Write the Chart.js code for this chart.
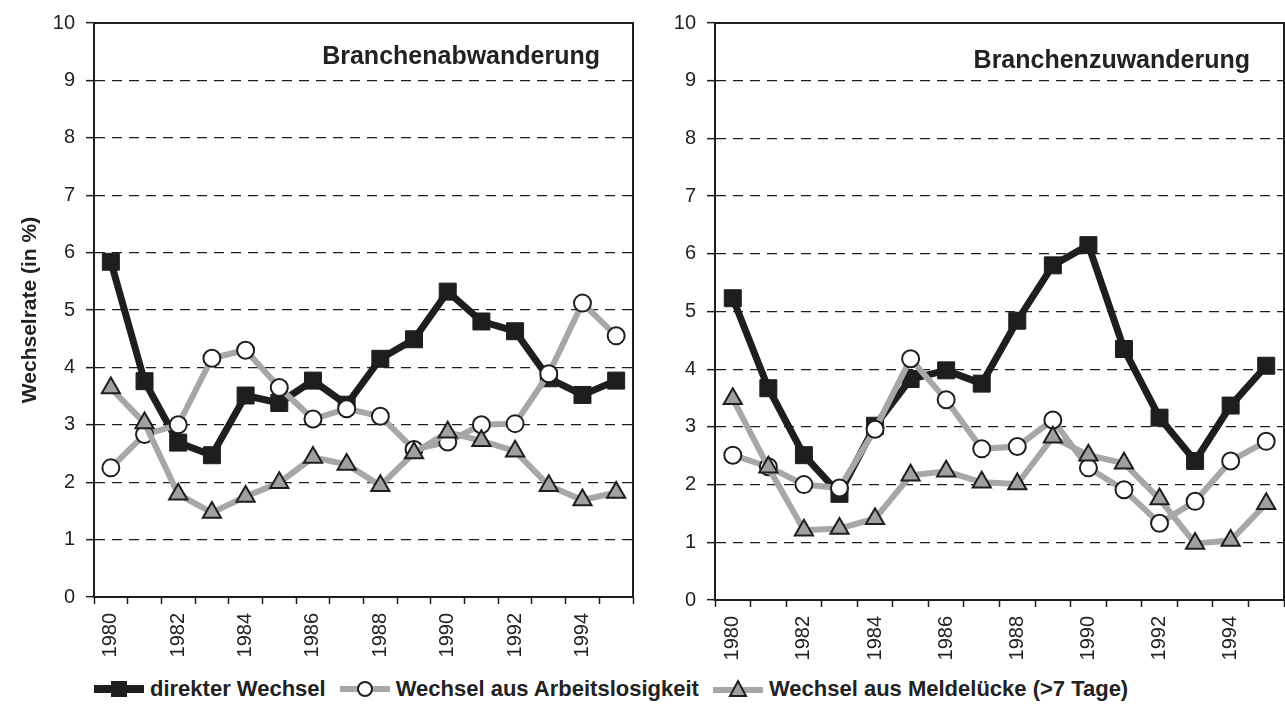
<!DOCTYPE html>
<html><head><meta charset="utf-8">
<script src="https://cdn.jsdelivr.net/npm/chart.js@4.4.1/dist/chart.umd.min.js"></script>
<style>
html,body{margin:0;padding:0;background:#fff;width:1285px;height:706px;overflow:hidden;font-family:"Liberation Sans",Arial,sans-serif;color:#222;}
#c1{position:absolute;left:0;top:0;}
#c2{position:absolute;left:650px;top:0;}
.ptitle{position:absolute;font-weight:bold;font-size:25px;line-height:27px;color:#222;white-space:nowrap;}
#legend{position:absolute;top:676px;left:94px;display:flex;align-items:center;font-weight:bold;font-size:22px;line-height:26px;color:#222;white-space:nowrap;}
#legend .it{display:flex;align-items:center;margin-right:14px;}
#legend svg{margin-right:6px;}
</style>
</head><body>
<canvas id="c1" width="650" height="665"></canvas>
<canvas id="c2" width="660" height="665"></canvas>
<div class="ptitle" id="t1" style="right:685px;top:42px;">Branchenabwanderung</div>
<div class="ptitle" id="t2" style="right:35px;top:46px;">Branchenzuwanderung</div>
<div id="legend">
  <div class="it"><svg width="50" height="22"><line x1="0" y1="11" x2="50" y2="11" stroke="#1e1e1e" stroke-width="8"/><rect x="17" y="3" width="16" height="16" fill="#1e1e1e"/></svg>direkter Wechsel</div>
  <div class="it"><svg width="50" height="22"><line x1="0" y1="11" x2="50" y2="11" stroke="#a7a7a7" stroke-width="6"/><circle cx="25" cy="11" r="7" fill="#fff" stroke="#1e1e1e" stroke-width="2"/></svg>Wechsel aus Arbeitslosigkeit</div>
  <div class="it"><svg width="50" height="22"><line x1="0" y1="12" x2="50" y2="12" stroke="#a7a7a7" stroke-width="6"/><polygon points="25,3 33,18 17,18" fill="#a0a0a0" stroke="#1e1e1e" stroke-width="2"/></svg>Wechsel aus Meldelücke (&gt;7 Tage)</div>
</div>
<script>
// ---- data ----
const years = ['1980','1981','1982','1983','1984','1985','1986','1987','1988','1989','1990','1991','1992','1993','1994','1995'];
const shownYears = ['1980','1982','1984','1986','1988','1990','1992','1994'];
const yTickValues = [0,1,2,3,4,5,6,7,8,9,10];

const abwDirekt      = [5.84, 3.76, 2.69, 2.47, 3.51, 3.38, 3.77, 3.35, 4.15, 4.49, 5.32, 4.80, 4.63, 3.81, 3.52, 3.77];
const abwArbeitslos  = [2.25, 2.83, 3.00, 4.16, 4.30, 3.65, 3.10, 3.28, 3.15, 2.57, 2.70, 3.00, 3.02, 3.89, 5.12, 4.55];
const abwMeldeluecke = [3.64, 3.03, 1.79, 1.47, 1.75, 1.99, 2.43, 2.31, 1.94, 2.51, 2.87, 2.72, 2.54, 1.94, 1.69, 1.82];

const zuDirekt       = [5.23, 3.67, 2.51, 1.84, 3.02, 3.83, 3.98, 3.75, 4.84, 5.80, 6.15, 4.35, 3.16, 2.41, 3.37, 4.06];
const zuArbeitslos   = [2.51, 2.31, 2.00, 1.94, 2.96, 4.18, 3.47, 2.62, 2.66, 3.12, 2.29, 1.91, 1.33, 1.71, 2.41, 2.75];
const zuMeldeluecke  = [3.49, 2.30, 1.21, 1.24, 1.41, 2.16, 2.23, 2.04, 2.01, 2.82, 2.51, 2.37, 1.75, 0.98, 1.03, 1.67];

const seriesNames = ['direkter Wechsel','Wechsel aus Arbeitslosigkeit','Wechsel aus Meldelücke (>7 Tage)'];

// ---- styles ----
const INK = '#1e1e1e';
const GRAY = '#a7a7a7';
const TRI = '#a0a0a0';
const FONT = '"Liberation Sans", Arial, sans-serif';

function datasets(d, a, m){
  return [
    {label: seriesNames[0], data: d, order: 2, borderColor: INK, borderWidth: 7,
     pointStyle: 'rect', pointRadius: 12, pointBackgroundColor: INK, pointBorderColor: INK, pointBorderWidth: 1, tension: 0},
    {label: seriesNames[1], data: a, order: 1, borderColor: GRAY, borderWidth: 6,
     pointStyle: 'circle', pointRadius: 8.5, pointBackgroundColor: '#fff', pointBorderColor: INK, pointBorderWidth: 2, tension: 0},
    {label: seriesNames[2], data: m, order: 0, borderColor: GRAY, borderWidth: 6,
     pointStyle: 'triangle', pointRadius: 10.5, pointBackgroundColor: TRI, pointBorderColor: INK, pointBorderWidth: 2, tension: 0}
  ];
}

const boxPlugin = {
  id: 'box',
  afterDraw(chart){
    const {ctx, chartArea: a} = chart;
    ctx.save();
    ctx.strokeStyle = INK;
    ctx.lineWidth = 2;
    ctx.beginPath();
    ctx.moveTo(a.left, a.top); ctx.lineTo(a.right, a.top); ctx.lineTo(a.right, a.bottom);
    ctx.stroke();
    ctx.restore();
  }
};

function makeChart(id, d, a, m, yWidth, xHeight, pad, showTitle){
  return new Chart(document.getElementById(id), {
    type: 'line',
    data: {labels: years, datasets: datasets(d, a, m)},
    plugins: [boxPlugin],
    options: {
      responsive: false, animation: false,
      layout: {padding: pad},
      plugins: {legend: {display: false}, tooltip: {enabled: false}},
      elements: {line: {borderJoinStyle: 'miter'}},
      scales: {
        x: {
          type: 'category', offset: true,
          grid: {offset: true, drawOnChartArea: false, drawTicks: true, tickLength: 7, tickColor: INK, tickWidth: 1.5},
          border: {display: true, color: INK, width: 2},
          ticks: {autoSkip: false, maxRotation: 90, minRotation: 90, padding: 9, color: '#222',
                  font: {family: FONT, size: 20},
                  callback: function(v, i){ const l = years[i]; return shownYears.includes(l) ? l : ''; }},
          afterFit(s){ s.height = xHeight; }
        },
        y: {
          min: 0, max: 10,
          afterBuildTicks(s){ s.ticks = yTickValues.map(v => ({value: v})); },
          grid: {color: c => (c.tick && (c.tick.value === 0 || c.tick.value === 10)) ? 'rgba(0,0,0,0)' : INK,
                 lineWidth: 1.3, drawTicks: true, tickLength: 8, tickColor: INK, tickWidth: 1.5, tickBorderDash: []},
          border: {display: true, color: INK, width: 2, dash: [10, 7]},
          ticks: {padding: 11, color: '#222', font: {family: FONT, size: 20}},
          title: {display: showTitle, text: 'Wechselrate (in %)', color: '#222',
                  font: {family: FONT, size: 21, weight: 'bold'}, padding: {top: 18, bottom: 0}},
          afterFit(s){ s.width = yWidth; }
        }
      }
    }
  });
}

makeChart('c1', abwDirekt, abwArbeitslos, abwMeldeluecke, 94, 68, {top: 20, right: 17, left: 0, bottom: 0}, true);
makeChart('c2', zuDirekt, zuArbeitslos, zuMeldeluecke, 65, 65, {top: 20, right: 26, left: 0, bottom: 0}, false);
</script>
</body></html>
